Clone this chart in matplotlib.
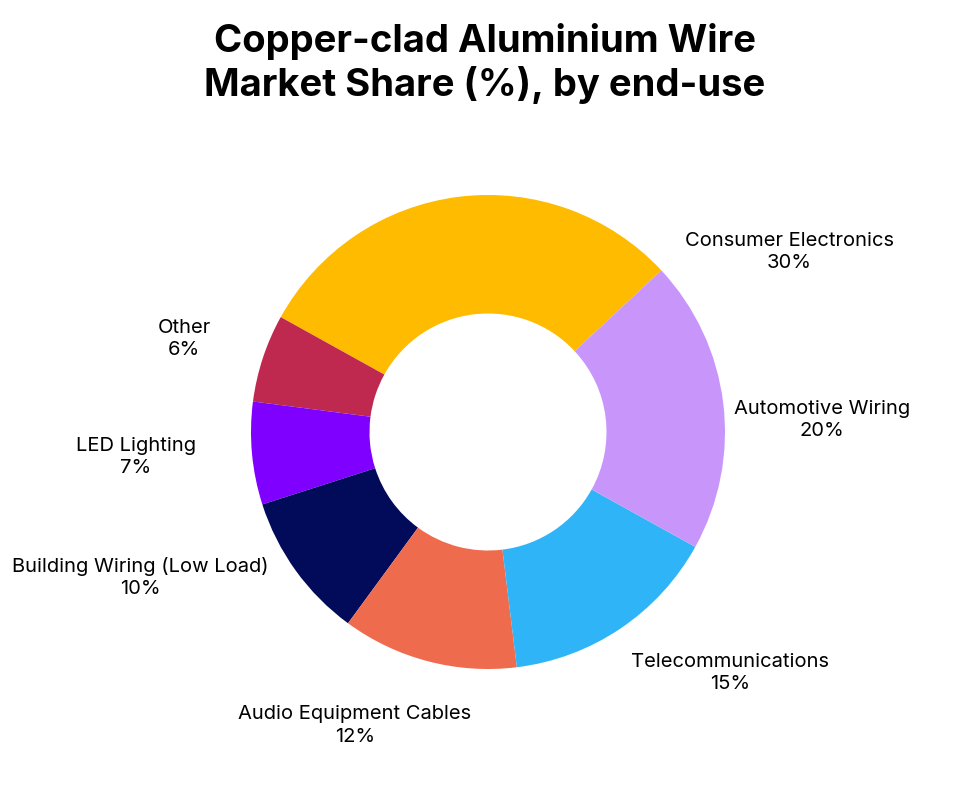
import matplotlib
matplotlib.use("Agg")
import matplotlib.pyplot as plt
import numpy as np

categories = ["Consumer Electronics", "Other", "LED Lighting", "Building Wiring (Low Load)",
              "Audio Equipment Cables", "Telecommunications", "Automotive Wiring"]
values = [30, 6, 7, 10, 12, 15, 20]
colors = ["#FFBB00", "#C0294F", "#8000FF", "#020A5A", "#EE6C4D", "#2FB5F7", "#C896FA"]
# label placement (angle in degrees, distance in radii)
label_angle = [30.8, 163, -176, -157.3, -114.4, -44.9, 2]
label_dist = [1.48, 1.34, 1.49, 1.59, 1.36, 1.44, 1.41]

plt.rcParams['font.family'] = ['Inter', 'DejaVu Sans']
fig = plt.figure(figsize=(9.69, 7.89), dpi=100)
fig.text(0.5, 0.92, "Copper-clad Aluminium Wire\nMarket Share (%), by end-use",
         ha='center', va='center', fontsize=27.5, fontweight='bold', linespacing=1.2)

cx, cy, r = 488, 432, 237
ax = fig.add_axes([(cx - r) / 969, (789 - cy - r) / 789, 2 * r / 969, 2 * r / 789])
wedges, _ = ax.pie(values, colors=colors, startangle=43, counterclock=True, radius=1,
                   wedgeprops=dict(width=0.5, edgecolor='white', linewidth=0))
for cat, v, ang, d in zip(categories, values, label_angle, label_dist):
    a = np.deg2rad(ang)
    ax.text(d * np.cos(a), d * np.sin(a), f"{cat}\n{v}%", ha='center', va='center',
            fontsize=14.5, linespacing=1.3, clip_on=False)
ax.set_xlim(-1, 1); ax.set_ylim(-1, 1); ax.set_aspect('equal')
fig.savefig("out.png", dpi=100, facecolor='white')
